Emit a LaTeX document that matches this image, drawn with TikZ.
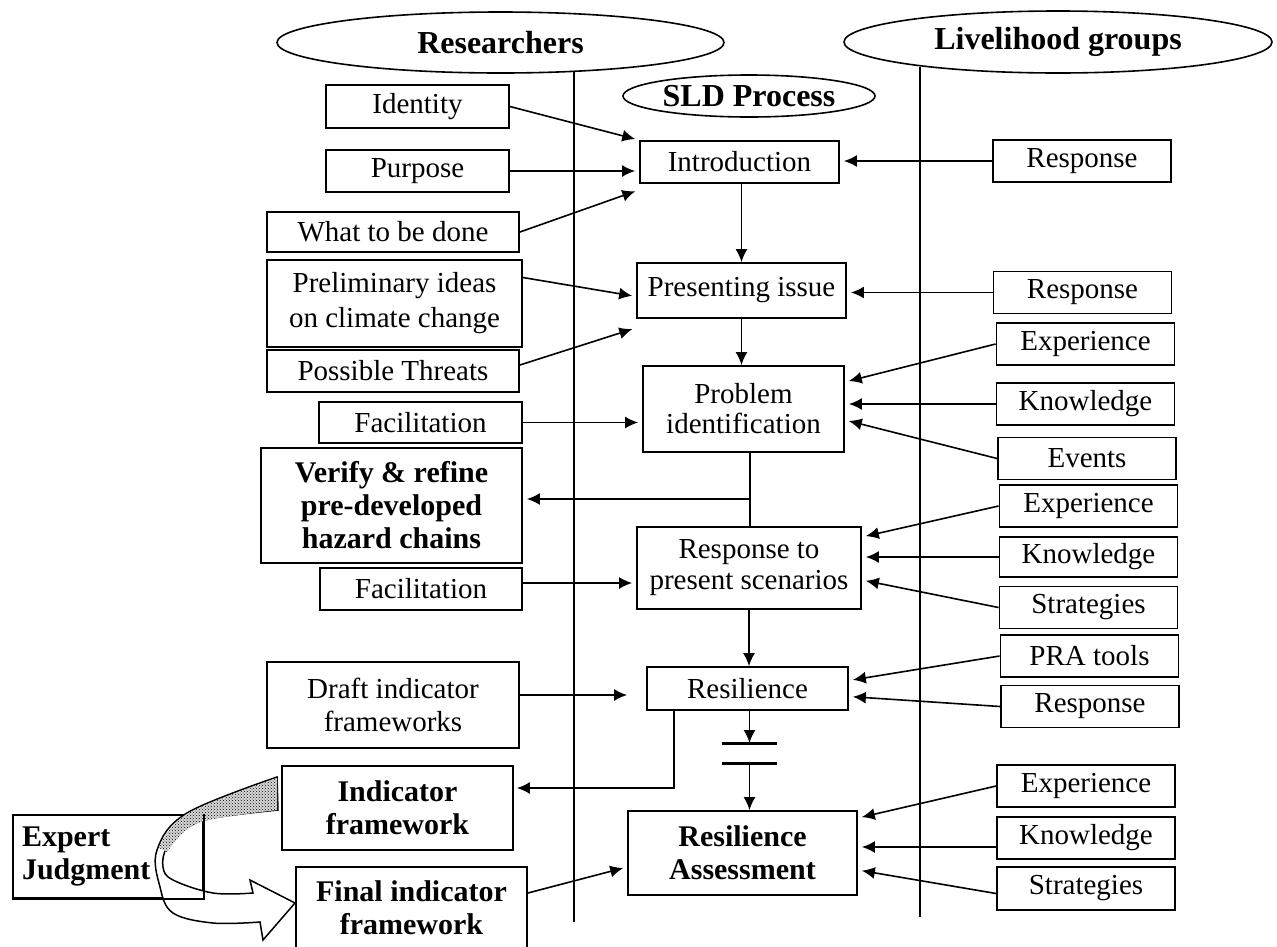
\documentclass[tikz,border=0pt]{standalone}
\usepackage{fontspec}
\setmainfont{Liberation Serif}
\usetikzlibrary{arrows.meta,shapes.geometric,patterns,calc}
\begin{document}
\begin{tikzpicture}[x=1pt,y=-1pt,
  box/.style={draw, line width=1.8pt, rectangle, inner sep=0pt, align=center,
    font=\fontsize{29}{32}\selectfont},
  bbox/.style={box, font=\fontsize{30}{33}\selectfont\bfseries},
  rbox/.style={box, minimum width=178pt, minimum height=42pt},
  lane/.style={draw, ellipse, line width=1.6pt, inner sep=0pt,
    font=\fontsize{32}{36}\selectfont\bfseries},
  arr/.style={line width=1.6pt, -{Latex[length=13pt,width=12pt]}, shorten >=4pt},
  link/.style={line width=1.6pt},
  laneline/.style={line width=2pt},
  gapbar/.style={line width=3pt},
]
\useasboundingbox (0,0) rectangle (1277,946);

% swim-lane headers
\node[lane, minimum width=447pt, minimum height=61pt] (researchers) at (500.5,42.5) {Researchers};
\node[lane, minimum width=428pt, minimum height=62pt] (groups) at (1058,42) {Livelihood groups};
\node[lane, minimum width=252pt, minimum height=42pt] (sld) at (749,96) {SLD Process};

% lane separators
\coordinate (leftTop) at (574,71);
\coordinate (leftBot) at (574,922);
\coordinate (rightTop) at (920,67);
\coordinate (rightBot) at (920,917);
\draw[laneline] (leftTop) -- (leftBot);
\draw[laneline] (rightTop) -- (rightBot);

% researchers' inputs
\node[box, minimum width=183pt, minimum height=43pt] (identity) at (417.5,106.5) {Identity};
\node[box, minimum width=183pt, minimum height=42pt] (purpose) at (417.5,171) {Purpose};
\node[box, minimum width=252pt, minimum height=40pt] (whatdone) at (393,232) {What to be done};
\node[box, minimum width=255pt, minimum height=87pt, font=\fontsize{29}{35}\selectfont] (prelim) at (394.5,303.5) {Preliminary ideas\\on climate change};
\node[box, minimum width=252pt, minimum height=42pt] (threats) at (393,371) {Possible Threats};
\node[box, minimum width=203pt, minimum height=41pt] (facilA) at (420.5,422.5) {Facilitation};
\node[bbox, minimum width=261pt, minimum height=115pt] (verify) at (391.5,505.5) {Verify \& refine\\pre-developed\\hazard chains};
\node[box, minimum width=202pt, minimum height=42pt] (facilB) at (421,589) {Facilitation};
\node[box, minimum width=252pt, minimum height=86pt, font=\fontsize{29}{33}\selectfont] (draft) at (393,705) {Draft indicator\\frameworks};
\node[bbox, minimum width=231pt, minimum height=84pt] (indicator) at (397.5,808) {Indicator\\framework};
\node[bbox, minimum width=231pt, minimum height=82pt] (final) at (411.5,908) {Final indicator\\framework};
\node[bbox, fill=white, minimum width=190pt, minimum height=83pt, text width=172pt, align=left] (expert) at (108,856.5) {Expert\\Judgment};

% SLD process steps
\node[box, minimum width=199pt, minimum height=42pt] (intro) at (739.5,162) {Introduction};
\node[box, minimum width=209pt, minimum height=55pt] (presenting) at (741.5,290.5) {Presenting issue};
\node[box, minimum width=201pt, minimum height=86pt, font=\fontsize{29}{30}\selectfont] (problem) at (743.5,409) {Problem\\identification};
\node[box, minimum width=224pt, minimum height=82pt, font=\fontsize{29}{31}\selectfont] (respscen) at (749,568) {Response to\\present scenarios};
\node[box, minimum width=201pt, minimum height=43pt] (resil) at (747.5,688.5) {Resilience};
\node[bbox, minimum width=229pt, minimum height=84pt] (assess) at (742.5,853) {Resilience\\Assessment};

% livelihood groups' inputs
\node[rbox] (r1) at (1082,161) {Response};
\node[rbox] (r2) at (1082.5,292.5) {Response};
\node[rbox] (r3) at (1085.5,344) {Experience};
\node[rbox] (r4) at (1085.5,404) {Knowledge};
\node[rbox] (r5) at (1087,458.5) {Events};
\node[rbox] (r6) at (1088.5,506) {Experience};
\node[rbox, minimum height=40pt] (r7) at (1088.5,557) {Knowledge};
\node[rbox] (r8) at (1088.5,607.5) {Strategies};
\node[rbox] (r9) at (1089.5,656) {PRA tools};
\node[rbox] (r10) at (1090,706.5) {Response};
\node[rbox] (r11) at (1086,786) {Experience};
\node[rbox] (r12) at (1086,838) {Knowledge};
\node[rbox, minimum height=43pt] (r13) at (1086,888.5) {Strategies};

% left-hand connectors
\draw[arr] (identity.east) -- (intro.north west);
\draw[arr] (purpose.east) -- (purpose.east -| intro.west);
\draw[arr] (whatdone.east) -- ([yshift=-6pt]intro.south west);
\draw[arr] ([yshift=26pt]prelim.east) -- ([yshift=-6pt]presenting.west);
\draw[arr] ([yshift=6pt]threats.east) -- ([yshift=-9pt]presenting.south west);
\draw[arr] (facilA.east) -- (facilA.east -| problem.west);
\draw[arr] ([yshift=6pt]facilB.east) -- ([yshift=6pt]facilB.east -| respscen.west);
\draw[arr, shorten >=19pt] ([yshift=10pt]draft.east) -- ([yshift=10pt]draft.east -| resil.west);
\draw[arr] ([yshift=15pt]final.east) -- ([yshift=-14pt]assess.west);

% main flow
\draw[arr, shorten >=0pt] (intro.south -| presenting.north) -- (presenting.north);
\draw[arr, shorten >=0pt] (presenting.south) -- (presenting.south |- problem.north);
\coordinate (branch) at (750,499);
\draw[link] (branch |- problem.south) -- (branch |- respscen.north);
\draw[arr] (branch) -- (branch -| verify.east);
\draw[arr, shorten >=0pt] (respscen.south) -- (respscen.south |- resil.north);
\draw[arr, shorten >=3pt] ([xshift=-73.5pt]resil.south) |- ([yshift=20pt]indicator.east);

% break in the flow before the assessment
\coordinate (gapTop) at (749.5,743);
\coordinate (gapBot) at (749.5,763);
\draw[gapbar] ([xshift=-27.5pt]gapTop) -- ([xshift=27.5pt]gapTop);
\draw[gapbar] ([xshift=-27.5pt]gapBot) -- ([xshift=27.5pt]gapBot);
\draw[arr, shorten >=0pt] (resil.south -| gapTop) -- (gapTop);
\draw[arr, shorten >=0pt] (gapBot) -- (gapBot |- assess.north);

% right-hand connectors
\draw[arr] (r1.west) -- (r1.west -| intro.east);
\draw[arr] (r2.west) -- (r2.west -| presenting.east);
\draw[arr] (r3.west) -- ([yshift=27pt]problem.east);
\draw[arr] (r4.west) -- (r4.west -| problem.east);
\draw[arr] (r5.west) -- ([yshift=-11pt]problem.east);
\draw[arr] (r6.west) -- ([yshift=31pt]respscen.east);
\draw[arr] (r7.west) -- (r7.west -| respscen.east);
\draw[arr] (r8.west) -- ([yshift=-12pt]respscen.east);
\draw[arr] (r9.west) -- ([yshift=8pt]resil.east);
\draw[arr] (r10.west) -- ([yshift=-8pt]resil.east);
\draw[arr] (r11.west) -- ([yshift=35pt]assess.east);
\draw[arr] ([yshift=-9pt]r12.west) -- ([yshift=-9pt]r12.west -| assess.east);
\draw[arr] ([yshift=-5pt]r13.west) -- ([yshift=-17pt]assess.east);

% twisted block arrow: expert judgment turns the framework into the final one
\path[fill=white, draw, line width=1.5pt]
  plot[smooth, tension=0.6] coordinates {(277,777) (187,813) (157,850) (160,887) (173,913) (213,923) (260,922)}
  -- (263,940) -- (295,903) -- (250,880) -- (253,893)
  -- plot[smooth, tension=0.6] coordinates {(253,893) (213,893) (173,880) (163,867) (167,847) (187,828) (213,818) (278,810)}
  -- cycle;
\path[fill=gray!30]
  plot[smooth, tension=0.6] coordinates {(277,778) (187,814) (159,848)}
  -- plot[smooth, tension=0.6] coordinates {(167,852) (187,829) (213,819) (277,810)}
  -- cycle;
\path[pattern=crosshatch dots]
  plot[smooth, tension=0.6] coordinates {(277,778) (187,814) (159,848)}
  -- plot[smooth, tension=0.6] coordinates {(167,852) (187,829) (213,819) (277,810)}
  -- cycle;
\draw[line width=1.8pt] (expert.north east) -- (expert.south east) -- (expert.south west);
\end{tikzpicture}
\end{document}
